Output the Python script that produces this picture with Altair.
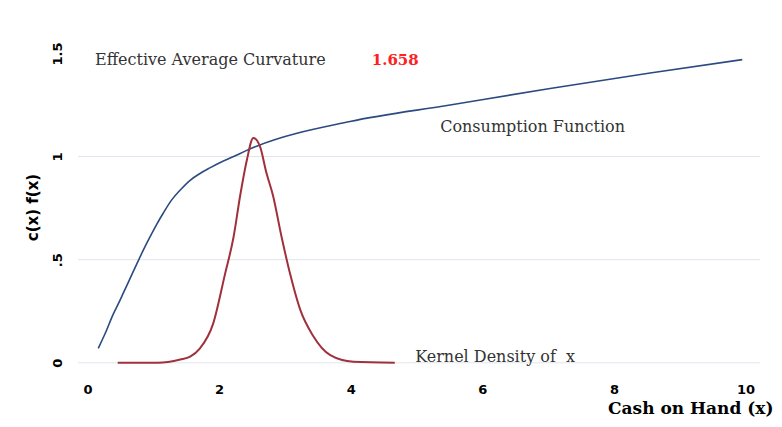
import altair as alt
import pandas as pd

# Consumption function c(x)
cons_x = [0.164, 0.27, 0.39, 0.49, 0.54, 0.62, 0.75, 0.85, 0.95, 1.05, 1.15, 1.28,
          1.41, 1.56, 1.71, 1.86, 2.01, 2.22, 2.42, 2.57, 3.99, 5.51, 7.03, 8.55, 9.95]
cons_y = [0.07, 0.143, 0.235, 0.30, 0.335, 0.39, 0.48, 0.547, 0.61, 0.67, 0.725, 0.79,
          0.838, 0.885, 0.918, 0.945, 0.97, 1.0, 1.03, 1.05, 1.17, 1.25, 1.33, 1.405, 1.47]

# Kernel density f(x)
dens_x = [0.46, 1.07, 1.41, 1.56, 1.71, 1.91, 2.09, 2.22, 2.32, 2.42, 2.52, 2.62,
          2.72, 2.82, 2.95, 3.08, 3.23, 3.43, 3.69, 4.04, 4.67]
dens_y = [0.0, 0.0, 0.016, 0.03, 0.07, 0.19, 0.43, 0.61, 0.81, 0.98, 1.09, 1.05,
          0.92, 0.81, 0.61, 0.43, 0.26, 0.13, 0.037, 0.005, 0.0]

grid_values = [0.0, 0.5, 1.0]
y_ticks = [0, 0.5, 1, 1.5]
y_tick_labels = ["0", ".5", "1", "1.5"]
x_ticks = [0, 2, 4, 6, 8, 10]

curvature_value = "1.658"

cons_df = pd.DataFrame({"x": cons_x, "y": cons_y})
dens_df = pd.DataFrame({"x": dens_x, "y": dens_y})
grid_df = pd.DataFrame({"y": grid_values})

label_expr = " : ".join(
    [f"datum.value == {v} ? '{l}'" for v, l in zip(y_ticks, y_tick_labels)]
) + " : ''"

xscale = alt.Scale(domain=[-0.144, 10.22], nice=False, zero=False)
yscale = alt.Scale(domain=[-0.035, 1.57], nice=False, zero=False)

xaxis = alt.Axis(values=x_ticks, format="d", grid=False, domain=False, ticks=False,
                 labelFont="DejaVu Sans", labelFontWeight="bold", labelFontSize=13,
                 labelColor="#000", labelPadding=13,
                 title="Cash on Hand (x)", titleFont="DejaVu Serif",
                 titleFontWeight="bold", titleFontSize=17, titleColor="#000",
                 titleX=695, titleY=38, titleAlign="right", titleBaseline="middle")
yaxis = alt.Axis(values=y_ticks, labelExpr=label_expr, grid=False, domain=False,
                 ticks=False, labelFont="DejaVu Sans", labelFontWeight="bold",
                 labelFontSize=13, labelColor="#000", labelAngle=270,
                 labelAlign="center", labelBaseline="bottom", labelPadding=14,
                 title="c(x) f(x)", titleFont="DejaVu Sans", titleFontWeight="bold",
                 titleFontSize=15, titleColor="#000", titleAngle=270,
                 titleX=-46, titleY=168, titleBaseline="middle", titleAlign="center")

grid = alt.Chart(grid_df).mark_rule(color="#dfe5ee", strokeWidth=1).encode(
    y=alt.Y("y:Q", scale=yscale, axis=yaxis)
)

cons = alt.Chart(cons_df).mark_line(color="#2b4a80", strokeWidth=1.6,
                                    interpolate="monotone").encode(
    x=alt.X("x:Q", scale=xscale, axis=xaxis),
    y=alt.Y("y:Q", scale=yscale)
)

dens = alt.Chart(dens_df).mark_line(color="#a0303c", strokeWidth=2,
                                    interpolate="monotone").encode(
    x=alt.X("x:Q", scale=xscale),
    y=alt.Y("y:Q", scale=yscale)
)

def label(text, x, y, color="#333", weight="normal", size=16):
    df = pd.DataFrame({"x": [x], "y": [y], "t": [text]})
    return alt.Chart(df).mark_text(align="left", baseline="middle",
                                   font="DejaVu Serif", fontSize=size,
                                   fontWeight=weight, color=color).encode(
        x=alt.X("x:Q", scale=xscale), y=alt.Y("y:Q", scale=yscale), text="t:N"
    )

texts = [
    label("Effective Average Curvature", 0.114, 1.47),
    label(curvature_value, 4.32, 1.47, color="#ff2020", weight="bold", size=15),
    label("Consumption Function", 5.36, 1.144),
    label("Kernel Density of\u00a0\u00a0x", 4.98, 0.028),
]

chart = alt.layer(grid, cons, dens, *texts).properties(
    width=682, height=331,
    autosize=alt.AutoSizeParams(type="none"),
    padding={"left": 70, "top": 31, "right": 14, "bottom": 48},
).configure_view(stroke=None)

chart.save("out.html", embed_options={"renderer": "svg", "actions": False})
